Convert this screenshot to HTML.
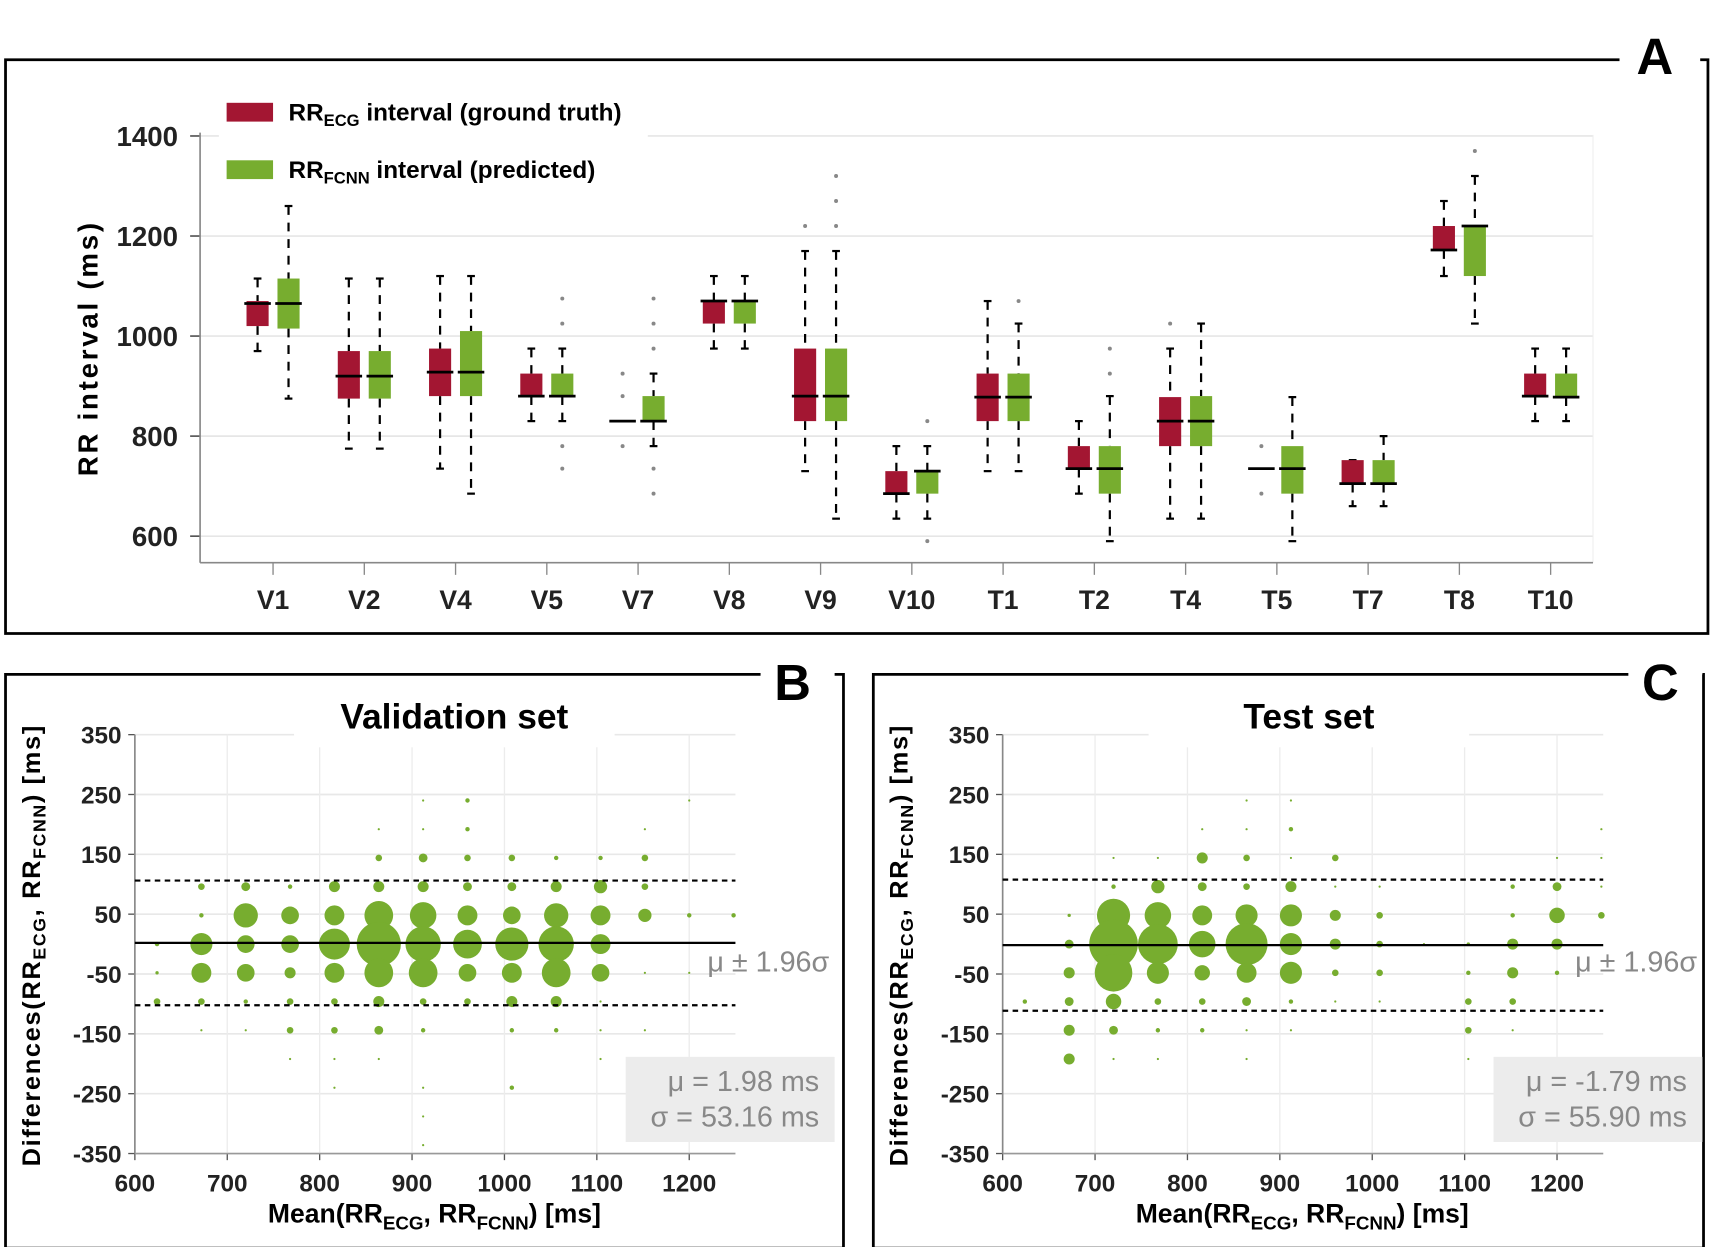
<!DOCTYPE html>
<html><head><meta charset="utf-8">
<style>
html,body{margin:0;padding:0;background:#fff;}
svg{display:block;font-family:"Liberation Sans",sans-serif;}
</style></head>
<body>
<svg id="fig" width="1719" height="1247" viewBox="0 0 1555 1128" preserveAspectRatio="none" xmlns="http://www.w3.org/2000/svg">
<g id="A"></g>
<g id="B"></g>
<g id="C"></g>
</svg>
<script>
// ---------- Panel A data ----------
const categories = ["V1","V2","V4","V5","V7","V8","V9","V10","T1","T2","T4","T5","T7","T8","T10"];
const ecgQ1   = [1020,875,880,880,830,1025,830,685,830,735,780,735,705,1172,880];
const ecgMed  = [1065,920,928,880,830,1070,880,685,878,735,830,735,705,1172,880];
const ecgQ3   = [1070,970,975,925,830,1070,975,730,925,780,878,735,752,1220,925];
const ecgLo   = [970,775,735,830,830,975,730,635,730,685,635,735,660,1120,830];
const ecgHi   = [1115,1115,1120,975,830,1120,1170,780,1070,830,975,735,752,1270,975];
const ecgOut  = [[],[],[],[],[925,880,780],[],[1220],[],[],[],[1025],[780,685],[],[],[]];
const fcnnQ1  = [1015,875,880,880,830,1025,830,685,830,685,780,685,705,1120,878];
const fcnnMed = [1065,920,928,880,830,1070,880,730,878,735,830,735,705,1220,878];
const fcnnQ3  = [1115,970,1010,925,880,1070,975,730,925,780,880,780,752,1220,925];
const fcnnLo  = [875,775,685,830,780,975,635,635,730,590,635,590,660,1025,830];
const fcnnHi  = [1260,1115,1120,975,925,1120,1170,780,1025,880,1025,878,800,1320,975];
const fcnnOut = [[],[],[],[1075,1025,780,735],[1075,1025,975,735,685],[],[1220,1270,1320],[830,590],[1070],[925,975],[],[],[],[1370],[]];
const yTicksA = [600,800,1000,1200,1400];

// ---------- Panel B/C data (mean ms, diff ms, radius=count-size) ----------
const valMean = [624,624,624, 672,672,672,672,672,672, 720,720,720,720,720,720, 768,768,768,768,768,768,768, 816,816,816,816,816,816,816,816, 864,864,864,864,864,864,864,864,864, 912,912,912,912,912,912,912,912,912,912,912,912, 960,960,960,960,960,960,960,960, 1008,1008,1008,1008,1008,1008,1008,1008, 1056,1056,1056,1056,1056,1056,1056, 1104,1104,1104,1104,1104,1104,1104,1104, 1152,1152,1152,1152,1152,1152, 1200,1200,1200, 1248];
const valDiff = [0,-48,-96, 96,48,0,-48,-96,-144, 96,48,0,-48,-96,-144, 96,48,0,-48,-96,-144,-192, 96,48,0,-48,-96,-144,-192,-240, 192,144,96,48,0,-48,-96,-144,-192, 240,192,144,96,48,0,-48,-96,-144,-240,-288,-336, 240,192,144,96,48,0,-48,-96, 144,96,48,0,-48,-96,-144,-240, 144,96,48,0,-48,-96,-144, 144,96,48,0,-48,-96,-144,-192, 192,144,96,48,-48,-144, 240,48,-48, 48];
const valSize = [2,1.5,3, 3,2,10,9,3,1, 4,11,8,8,2,1, 2,8,8,5,3,3,1, 5,9,14,9,3,3,1,1, 1,3,5,13,20,13,5,4,1, 1,1,4,5,12,16,13,3,2,1,1,1, 2,2,3,4,9,13,8,3, 3,4,8,15,9,5,2,2, 2,5,11,16,13,5,2, 2,6,9,9,8,1,1,1, 1,3,3,6,1,1, 1,2,1, 2];
const testMean = [624, 672,672,672,672,672,672, 720,720,720,720,720,720,720,720, 768,768,768,768,768,768,768,768, 816,816,816,816,816,816,816,816, 864,864,864,864,864,864,864,864,864,864, 912,912,912,912,912,912,912,912,912, 960,960,960,960,960,960, 1008,1008,1008,1008,1008, 1056, 1104,1104,1104,1104,1104, 1152,1152,1152,1152,1152,1152, 1200,1200,1200,1200,1200, 1248,1248,1248,1248];
const testDiff = [-96, 48,0,-48,-96,-144,-192, 144,96,48,0,-48,-96,-144,-192, 144,96,48,0,-48,-96,-144,-192, 192,144,96,48,0,-48,-96,-144, 240,192,144,96,48,0,-48,-96,-144,-192, 240,192,144,96,48,0,-48,-96,-144, 144,96,48,0,-48,-96, 96,48,0,-48,-96, 0, 0,-48,-96,-144,-192, 96,48,0,-48,-96,-144, 144,96,48,0,-48, 192,144,96,48];
const testSize = [2, 1.5,4,5,4,5,5, 1,2,15,22,17,7,4,1, 1,6,12,18,10,3,2,1, 1,5,4,9,12,7,3,2, 1,1,3,3,10,19,9,4,1,1, 1,2,1,5,10,10,10,2,1, 3,1,5,5,3,1, 1,3,3,3,1, 1, 1.5,2,3,3,1, 2,2,5,5,3,1, 1,4,7,5,2, 1,1,1,3];
const xTicksBA = [600,700,800,900,1000,1100,1200];
const yTicksBA = [350,250,150,50,-50,-150,-250,-350];

const NS = "http://www.w3.org/2000/svg";
function mk(parent, tag, attrs, text){
  const e = document.createElementNS(NS, tag);
  for (const k in attrs) e.setAttribute(k, attrs[k]);
  if (text !== undefined) e.textContent = text;
  parent.appendChild(e);
  return e;
}

// ---------- Panel A ----------
const A = document.getElementById('A');
const yA = v => 304 - (v - 1000) * 0.4525;
const xA = i => 247 + i * 82.55;
const RED = "#a31632", GREEN = "#77ad2f";

let fr = mk(A,'path',{d:"M1465 54 H5 V573 H1545 V54 H1538",fill:"none",stroke:"#000","stroke-width":2.5});
 
let lab = mk(A,'text',{x:1497,y:67,"font-size":46,"font-weight":"bold","text-anchor":"middle"},"A");
 

yTicksA.forEach(t=>{
  let g = mk(A,'line',{x1:181,x2:1441,y1:yA(t),y2:yA(t),stroke:"#e6e6e6","stroke-width":1.5});
   
  mk(A,'line',{x1:172,x2:181,y1:yA(t),y2:yA(t),stroke:"#555","stroke-width":1.5});
  let tl = mk(A,'text',{x:161,y:yA(t)+9,"font-size":25,"font-weight":"bold","text-anchor":"end",fill:"#222"},t);
   
});
mk(A,'line',{x1:1441,x2:1441,y1:122,y2:509,stroke:"#eee","stroke-width":1});
let ax = mk(A,'line',{x1:181,x2:181,y1:120,y2:509,stroke:"#888","stroke-width":1.5});
 
let bx = mk(A,'line',{x1:181,x2:1441,y1:509,y2:509,stroke:"#888","stroke-width":1.5});
 

let yt = mk(A,'text',{transform:"translate(88,315) rotate(-90)","font-size":25,"font-weight":"bold","text-anchor":"middle","letter-spacing":"2.5"},"RR interval (ms)");
 

function drawBox(i, dx, col, q1, med, q3, lo, hi, outs, kind){
  const cx = xA(i) + dx, w = 20;
  const g = mk(A,'g',{});
  
  
  mk(g,'line',{x1:cx,x2:cx,y1:yA(hi),y2:yA(q3),stroke:"#000","stroke-width":2,"stroke-dasharray":"8,7"});
  mk(g,'line',{x1:cx,x2:cx,y1:yA(q1),y2:yA(lo),stroke:"#000","stroke-width":2,"stroke-dasharray":"8,7"});
  mk(g,'line',{x1:cx-3.5,x2:cx+3.5,y1:yA(hi),y2:yA(hi),stroke:"#000","stroke-width":2});
  mk(g,'line',{x1:cx-3.5,x2:cx+3.5,y1:yA(lo),y2:yA(lo),stroke:"#000","stroke-width":2});
  mk(g,'rect',{x:cx-w/2,y:yA(q3),width:w,height:Math.max(yA(q1)-yA(q3),0.5),fill:col});
  mk(g,'line',{x1:cx-12,x2:cx+12,y1:yA(med),y2:yA(med),stroke:"#000","stroke-width":2.5});
  outs.forEach(o=>mk(g,'circle',{cx:cx,cy:yA(o),r:1.8,fill:"#888"}));
}
categories.forEach((c,i)=>{
  drawBox(i,-14,RED,ecgQ1[i],ecgMed[i],ecgQ3[i],ecgLo[i],ecgHi[i],ecgOut[i],'ecg');
  drawBox(i,14,GREEN,fcnnQ1[i],fcnnMed[i],fcnnQ3[i],fcnnLo[i],fcnnHi[i],fcnnOut[i],'fcnn');
  mk(A,'line',{x1:xA(i),x2:xA(i),y1:509,y2:520,stroke:"#888","stroke-width":1.2});
  let t = mk(A,'text',{x:xA(i),y:551,"font-size":24,"font-weight":"bold","text-anchor":"middle",fill:"#222"},c);
   
});

// legend
const lg = mk(A,'g',{});
 
mk(lg,'rect',{x:198,y:84,width:388,height:92,fill:"#fff"});
const le1 = mk(lg,'g',{});
 
mk(le1,'rect',{x:205,y:93,width:42,height:17,fill:RED});
let t1 = mk(le1,'text',{x:261,y:109,"font-size":22,"font-weight":"bold"});
t1.innerHTML = 'RR<tspan font-size="15" dy="5">ECG</tspan><tspan dy="-5"> interval (ground truth)</tspan>';
const le2 = mk(lg,'g',{});
 
mk(le2,'rect',{x:205,y:145,width:42,height:17,fill:GREEN});
let t2 = mk(le2,'text',{x:261,y:161,"font-size":22,"font-weight":"bold"});
t2.innerHTML = 'RR<tspan font-size="15" dy="5">FCNN</tspan><tspan dy="-5"> interval (predicted)</tspan>';

// ---------- Bland-Altman panels ----------
function drawBA(id, ox, letter, title, titleX, meanArr, diffArr, sizeArr, mu, sigma, muTxt, sigTxt){
  const P = document.getElementById(id);
  const x = v => ox + 122 + (v - 600) * 0.8358;
  const y = v => 854 - v * 0.5413;
  const right = x(1250);
  let f = mk(P,'path',{d:`M${ox+688} 610 H${ox+5} V1129 H${ox+763 + (id==='C'?-7:0)} V610 H${ox+755}`,fill:"none",stroke:"#000","stroke-width":2.5});
   
  let L = mk(P,'text',{x:ox+717,y:633,"font-size":46,"font-weight":"bold","text-anchor":"middle"},letter);
   
  yTicksBA.forEach(t=>{
    mk(P,'line',{x1:x(600),x2:right,y1:y(t),y2:y(t),stroke:"#e8e8e8","stroke-width":1.5});
    mk(P,'line',{x1:x(600)-6,x2:x(600),y1:y(t),y2:y(t),stroke:"#555","stroke-width":1.2});
    let tl = mk(P,'text',{x:ox+110,y:y(t)+8,"font-size":22,"font-weight":"bold","text-anchor":"end",fill:"#222"},t);
     
  });
  xTicksBA.forEach(t=>{
    mk(P,'line',{x1:x(t),x2:x(t),y1:y(350),y2:y(-350),stroke:"#ececec","stroke-width":1.2});
    mk(P,'line',{x1:x(t),x2:x(t),y1:y(-350),y2:y(-350)+6,stroke:"#555","stroke-width":1.2});
    let tl = mk(P,'text',{x:x(t),y:1078,"font-size":22,"font-weight":"bold","text-anchor":"middle",fill:"#222"},t);
     
  });
  mk(P,'line',{x1:x(600),x2:x(600),y1:y(350),y2:y(-350),stroke:"#888","stroke-width":1.5});
  mk(P,'line',{x1:x(600),x2:right,y1:y(-350),y2:y(-350),stroke:"#999","stroke-width":1.5});
  mk(P,'rect',{x:titleX-145,y:620,width:290,height:56,fill:"#fff"});
  let T = mk(P,'text',{x:titleX,y:659,"font-size":32,"font-weight":"bold","text-anchor":"middle"},title);
   
  meanArr.forEach((m,i)=>{
    let c = mk(P,'circle',{cx:x(m),cy:y(diffArr[i]),r:sizeArr[i],fill:GREEN});
    
    
  });
  let ml = mk(P,'line',{x1:x(600),x2:right,y1:y(mu),y2:y(mu),stroke:"#000","stroke-width":2});
   
  [mu+1.96*sigma, mu-1.96*sigma].forEach(v=>{
    let d = mk(P,'line',{x1:x(600),x2:right,y1:y(v),y2:y(v),stroke:"#000","stroke-width":2,"stroke-dasharray":"5,4"});
     
  });
  let mt = mk(P,'text',{x:ox+695,y:879,"font-size":26,fill:"#888","text-anchor":"middle"},"μ ± 1.96σ");
   
  let sb = mk(P,'g',{});
   
  mk(sb,'rect',{x:ox+566,y:956,width:189,height:77,fill:"#ececec"});
  mk(sb,'text',{x:ox+741,y:987,"font-size":26,fill:"#888","text-anchor":"end"},muTxt);
  mk(sb,'text',{x:ox+741,y:1019,"font-size":26,fill:"#888","text-anchor":"end"},sigTxt);
  let yl = mk(P,'text',{transform:`translate(${ox+36},855) rotate(-90)`,"font-size":23,"font-weight":"bold","text-anchor":"middle","letter-spacing":"1.5"});
  yl.innerHTML = 'Differences(RR<tspan font-size="16" dy="5">ECG</tspan><tspan dy="-5">, RR</tspan><tspan font-size="16" dy="5">FCNN</tspan><tspan dy="-5">) [ms]</tspan>';
   
  let xl = mk(P,'text',{x:ox+393,y:1106,"font-size":24,"font-weight":"bold","text-anchor":"middle"});
  xl.innerHTML = 'Mean(RR<tspan font-size="17" dy="6">ECG</tspan><tspan dy="-6">, RR</tspan><tspan font-size="17" dy="6">FCNN</tspan><tspan dy="-6">) [ms]</tspan>';
   
}
drawBA('B',0,'B','Validation set',411,valMean,valDiff,valSize,1.98,53.16,'μ = 1.98 ms','σ = 53.16 ms');
drawBA('C',785,'C','Test set',1184,testMean,testDiff,testSize,-1.79,55.90,'μ = -1.79 ms','σ = 55.90 ms');
</script>
</body></html>
